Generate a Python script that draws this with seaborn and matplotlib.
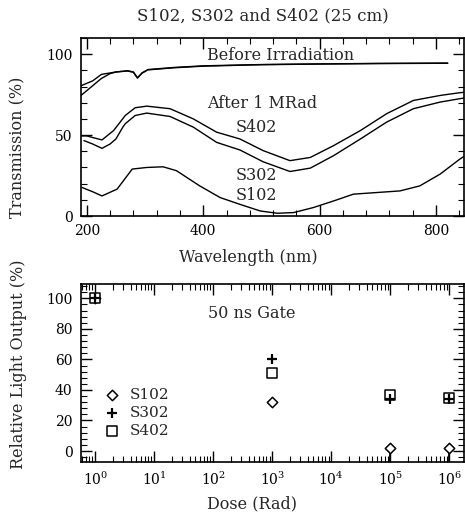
import numpy as np
import pandas as pd
import matplotlib
matplotlib.use("Agg")
import matplotlib.pyplot as plt
import seaborn as sns
from matplotlib.ticker import MultipleLocator, LogLocator, NullFormatter, FixedLocator

# ---------------- data: top panel (transmission spectra) ----------------
before_a_wl = [190, 200, 210, 225, 250, 270, 280, 287, 295, 305, 350, 400, 500, 600, 700, 820]
before_a_t = [80.5, 82.0, 83.5, 87.5, 89.0, 89.8, 89.0, 85.5, 88.5, 90.5, 91.8, 92.8, 93.6, 94.0, 94.3, 94.5]
before_b_wl = [190, 200, 210, 225, 240, 250, 270, 280, 287, 295, 305, 350, 400, 500, 600, 700, 820]
before_b_t = [74.5, 77.5, 80.5, 85.0, 88.0, 89.0, 89.6, 88.8, 85.2, 88.3, 90.3, 91.6, 92.6, 93.5, 93.9, 94.2, 94.4]

s402_wl = [190, 200, 210, 226, 246, 266, 283, 303, 343, 383, 423, 463, 503, 549, 584, 624, 670, 715, 761, 807, 841, 850]
s402_t = [49.5, 49.5, 48.5, 47.0, 52.8, 62.1, 66.9, 67.9, 66.3, 60.0, 51.8, 47.6, 40.4, 34.2, 36.2, 43.5, 52.8, 63.2, 71.4, 74.5, 76.2, 76.5]

s302_wl = [195, 210, 226, 240, 250, 256, 262, 266, 283, 303, 343, 383, 423, 463, 503, 549, 584, 624, 670, 715, 761, 807, 841, 850]
s302_t = [46.6, 44.5, 41.8, 44.5, 47.6, np.nan, 55.0, 57.0, 62.1, 63.6, 61.5, 54.9, 45.5, 40.8, 33.5, 27.5, 29.6, 37.3, 47.6, 58.0, 66.3, 70.4, 72.5, 73.0]

s102_wl = [192, 210, 226, 252, 278, 303, 331, 354, 394, 429, 463, 498, 527, 555, 589, 624, 658, 698, 738, 772, 807, 841, 850]
s102_t = [17.6, 15.0, 12.4, 16.6, 29.0, 30.0, 30.4, 28.0, 18.6, 11.4, 7.2, 3.1, 1.7, 2.1, 5.2, 9.3, 13.5, 14.5, 15.5, 18.6, 25.9, 35.2, 37.3]

# ---------------- data: bottom panel (relative light output) ----------------
dose = [1, 1e3, 1e5, 1e6]
s102_out = [100, 32, 2, 2]
s302_out = [100, 60, 34, 34]
s402_out = [100, 51, 37, 35]
samples = ["S102", "S302", "S402"]

sns.set_style("ticks")
plt.rcParams["font.family"] = ["DejaVu Serif"]
plt.rcParams["mathtext.fontset"] = "dejavuserif"
FS = 11.5     # labels / annotations
TFS = 10      # tick labels

fig = plt.figure(figsize=(4.65, 5.15), dpi=100)
ax1 = fig.add_axes([81 / 465, 1 - 216 / 515, 383 / 465, 178 / 515])
ax2 = fig.add_axes([81 / 465, 1 - 462 / 515, 383 / 465, 178 / 515])

spec = []
for name, w, t in [("before_a", before_a_wl, before_a_t), ("before_b", before_b_wl, before_b_t),
                   ("S402", s402_wl, s402_t), ("S302", s302_wl, s302_t), ("S102", s102_wl, s102_t)]:
    spec.append(pd.DataFrame({"wl": w, "T": t, "curve": name}))

for df in spec:
    sns.lineplot(data=df, x="wl", y="T", ax=ax1, color="black", lw=1.0, sort=False,
                 estimator=None, legend=False)

ax1.set_xlim(190, 848)
ax1.set_ylim(0, 110)
ax1.set_xticks([200, 400, 600, 800])
ax1.set_yticks([0, 50, 100])
ax1.xaxis.set_minor_locator(MultipleLocator(40))
ax1.yaxis.set_minor_locator(MultipleLocator(10))
ax1.set_xlabel("Wavelength (nm)", fontsize=FS)
ax1.set_ylabel("Transmission (%)", fontsize=FS)
ax1.xaxis.set_label_coords((248 - 81) / 383, (216 - 249) / 178)
ax1.yaxis.set_label_coords((26 - 81) / 383, (216 - 147) / 178)
ax1.set_title("S102, S302 and S402 (25 cm)", fontsize=12, x=(263 - 81) / 383, pad=13)

ax1.text(532, 99.4, "Before Irradiation", fontsize=FS, ha="center", va="center")
ax1.text(501, 69.4, "After 1 MRad", fontsize=FS, ha="center", va="center")
ax1.text(491, 54.5, "S402", fontsize=FS, ha="center", va="center")
ax1.text(491, 24.8, "S302", fontsize=FS, ha="center", va="center")
ax1.text(491, 12.4, "S102", fontsize=FS, ha="center", va="center")

# bottom panel
pts = pd.DataFrame({
    "dose": dose * 3,
    "out": s102_out + s302_out + s402_out,
    "sample": sum([[s] * len(dose) for s in samples], []),
})
markers = {"S102": "D", "S302": "+", "S402": "s"}
sizes = {"S102": 28, "S302": 60, "S402": 55}
for s in samples:
    sub = pts[pts["sample"] == s]
    if s == "S302":
        sns.scatterplot(data=sub, x="dose", y="out", ax=ax2, marker="+", s=sizes[s],
                        color="black", linewidth=1.6, label=s, zorder=4)
    else:
        sns.scatterplot(data=sub, x="dose", y="out", ax=ax2, marker=markers[s], s=sizes[s],
                        facecolor="white", edgecolor="black", linewidth=1.1, label=s, zorder=3)

# stems below S102 points at high dose
for d, v in zip(dose[2:], s102_out[2:]):
    ax2.errorbar([d], [v], yerr=[[12], [0]], fmt="none", ecolor="black", elinewidth=1.3, capsize=0, zorder=2)

ax2.set_xscale("log")
ax2.set_xlim(10 ** -0.24, 10 ** 6.25)
ax2.set_ylim(-7.2, 109.4)
ax2.set_yticks([0, 20, 40, 60, 80, 100])
ax2.yaxis.set_minor_locator(MultipleLocator(4))
ax2.xaxis.set_major_locator(FixedLocator([1, 10, 1e2, 1e3, 1e4, 1e5, 1e6]))
ax2.xaxis.set_minor_locator(LogLocator(base=10, subs=np.arange(2, 10), numticks=20))
ax2.xaxis.set_minor_formatter(NullFormatter())
ax2.set_xlabel("Dose (Rad)", fontsize=FS)
ax2.set_ylabel("Relative Light Output (%)", fontsize=FS)
ax2.xaxis.set_label_coords((252 - 81) / 383, (462 - 495) / 178)
ax2.yaxis.set_label_coords((27 - 81) / 383, (462 - 364) / 178)
ax2.text(10 ** 2.65, 90.2, "50 ns Gate", fontsize=FS, ha="center", va="center")

leg = ax2.legend(loc="upper left", bbox_to_anchor=(0.055, 0.415), frameon=False, fontsize=11,
                 borderaxespad=0, borderpad=0, handlelength=1.3, handletextpad=0.5,
                 labelspacing=0.25)

for ax in (ax1, ax2):
    for sp in ax.spines.values():
        sp.set_linewidth(1.2)
        sp.set_color("black")
        sp.set_visible(True)
    ax.tick_params(which="both", direction="in", top=True, right=True, labelsize=TFS, colors="black")
    ax.tick_params(which="major", length=8, width=1.0, pad=6)
    ax.tick_params(which="minor", length=4, width=0.8)

fig.savefig("out.png", dpi=100)
